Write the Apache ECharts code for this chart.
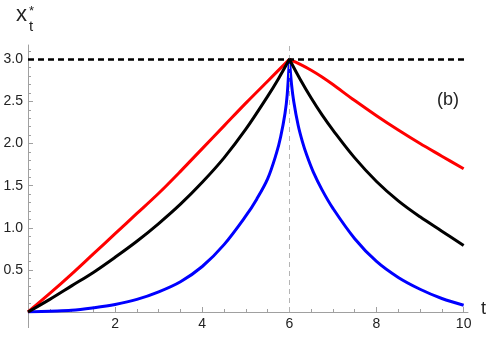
<!DOCTYPE html>
<html>
<head>
<meta charset="utf-8">
<script src="https://cdn.jsdelivr.net/npm/echarts@6/dist/echarts.min.js"></script>
<style>
  html, body { margin: 0; padding: 0; background: #fff; }
  #chart { width: 491px; height: 337px; }
</style>
</head>
<body>
<div id="chart"></div>
<script>
// values
const redT = [0, 0.5, 1, 1.5, 2, 2.5, 3, 3.5, 4, 4.5, 5, 5.5, 6, 6.25, 6.5, 6.75, 7, 7.5, 8, 8.5, 9, 9.5, 10]
const redV = [0, 0.22, 0.45, 0.69, 0.93, 1.17, 1.41, 1.67, 1.94, 2.21, 2.48, 2.74, 3.0, 2.94, 2.87, 2.79, 2.70, 2.51, 2.33, 2.16, 2.00, 1.85, 1.70]

const blackT = [0, 0.5, 1, 1.5, 2, 2.5, 3, 3.5, 4, 4.5, 5, 5.5, 5.75, 6, 6.25, 6.5, 6.75, 7, 7.5, 8, 8.5, 9, 9.5, 10]
const blackV = [0, 0.15, 0.31, 0.47, 0.65, 0.84, 1.05, 1.28, 1.54, 1.83, 2.17, 2.56, 2.77, 3.0, 2.76, 2.54, 2.34, 2.16, 1.83, 1.55, 1.32, 1.13, 0.96, 0.79]

const blueT = [0, 0.5, 1, 1.5, 2, 2.5, 3, 3.5, 4, 4.5, 5, 5.25, 5.5, 5.7, 5.8, 5.9, 5.95, 6,
  6.05, 6.1, 6.2, 6.3, 6.4, 6.55, 6.75, 7, 7.5, 8, 8.5, 9, 9.5, 10]
const blueV = [0, 0.01, 0.02, 0.05, 0.09, 0.15, 0.24, 0.36, 0.54, 0.80, 1.14, 1.34, 1.58, 1.88, 2.08, 2.36, 2.58, 3.0,
  2.70, 2.50, 2.22, 2.02, 1.86, 1.66, 1.45, 1.23, 0.87, 0.60, 0.41, 0.27, 0.16, 0.08]

const xMajor = [2, 4, 6, 8, 10]
const xMinor = [0.5, 1, 1.5, 2.5, 3, 3.5, 4.5, 5, 5.5, 6.5, 7, 7.5, 8.5, 9, 9.5]
const yMajor = [0.5, 1, 1.5, 2, 2.5, 3]
const yMinor = [0.1, 0.2, 0.3, 0.4, 0.6, 0.7, 0.8, 0.9, 1.1, 1.2, 1.3, 1.4, 1.6, 1.7, 1.8, 1.9,
  2.1, 2.2, 2.3, 2.4, 2.6, 2.7, 2.8, 2.9, 3.1]
const targetLevel = 3
const switchTime = 6

const axisGray = '#a0a0a0'
const font = 'Liberation Sans, Arial, sans-serif'

// split a curve at the switch time so the peak stays a sharp corner
function halves(ts, vs) {
  const all = ts.map((t, i) => [t, vs[i]])
  return [all.filter(p => p[0] <= switchTime), all.filter(p => p[0] >= switchTime)]
}

function curve(data, color) {
  return {
    type: 'line',
    data: data,
    showSymbol: false,
    smooth: 0.35,
    lineStyle: { color: color, width: 3 }
  }
}

const chart = echarts.init(document.getElementById('chart'))

const xBase = {
  type: 'value',
  min: 0,
  max: 10.1,
  splitLine: { show: false },
  axisLine: { onZero: false, lineStyle: { color: axisGray, width: 1 } }
}
const yBase = {
  type: 'value',
  min: 0,
  max: 3.17,
  splitLine: { show: false },
  axisLine: { onZero: false, lineStyle: { color: axisGray, width: 1 } }
}

const blue = halves(blueT, blueV)
const red = halves(redT, redV)
const black = halves(blackT, blackV)

const series = [
  curve(blue[0], '#0000ff'),
  curve(blue[1], '#0000ff'),
  curve(red[0], '#ff0000'),
  curve(red[1], '#ff0000'),
  curve(black[0], '#000000'),
  curve(black[1], '#000000')
]
series[0].markLine = {
  silent: true,
  symbol: 'none',
  label: { show: false },
  data: [
    { xAxis: switchTime, lineStyle: { color: '#b4b4b4', width: 1, type: [5, 4] } },
    { yAxis: targetLevel, lineStyle: { color: '#000', width: 2.5, type: [6, 4] } }
  ]
}

chart.setOption({
  animation: false,
  grid: { left: 28, right: 23, top: 45, bottom: 25, containLabel: false, outerBoundsMode: 'none' },
  xAxis: [
    Object.assign({}, xBase, {
      axisTick: { inside: true, length: 5, customValues: xMajor, lineStyle: { color: axisGray } },
      axisLabel: {
        customValues: xMajor, margin: 5, color: '#222', fontSize: 14, fontFamily: font
      }
    }),
    Object.assign({}, xBase, {
      position: 'bottom',
      axisLine: { show: false },
      axisTick: { inside: true, length: 3, customValues: xMinor, lineStyle: { color: axisGray } },
      axisLabel: { show: false }
    })
  ],
  yAxis: [
    Object.assign({}, yBase, {
      axisTick: { inside: true, length: 5, customValues: yMajor, lineStyle: { color: axisGray } },
      axisLabel: {
        customValues: yMajor, margin: 5, color: '#222', fontSize: 14, fontFamily: font,
        formatter: v => v.toFixed(1)
      }
    }),
    Object.assign({}, yBase, {
      position: 'left',
      axisLine: { show: false },
      axisTick: { inside: true, length: 3, customValues: yMinor, lineStyle: { color: axisGray } },
      axisLabel: { show: false }
    })
  ],
  graphic: [
    // short stub of the vertical axis below the origin
    { type: 'line', shape: { x1: 28.5, y1: 312, x2: 28.5, y2: 328 }, style: { stroke: axisGray, lineWidth: 1 } },
    { type: 'text', left: 16, top: 4, style: { text: 'x', font: '22px ' + font, fill: '#222' } },
    { type: 'text', left: 29, top: 19, style: { text: 't', font: '15px ' + font, fill: '#222' } },
    { type: 'text', left: 29, top: 5, style: { text: '*', font: '13px ' + font, fill: '#222' } },
    { type: 'text', left: 481, top: 300, style: { text: 't', font: '18px ' + font, fill: '#222' } },
    { type: 'text', left: 437, top: 91, style: { text: '(b)', font: '18px ' + font, fill: '#222' } }
  ],
  series: series
})
</script>
</body>
</html>
